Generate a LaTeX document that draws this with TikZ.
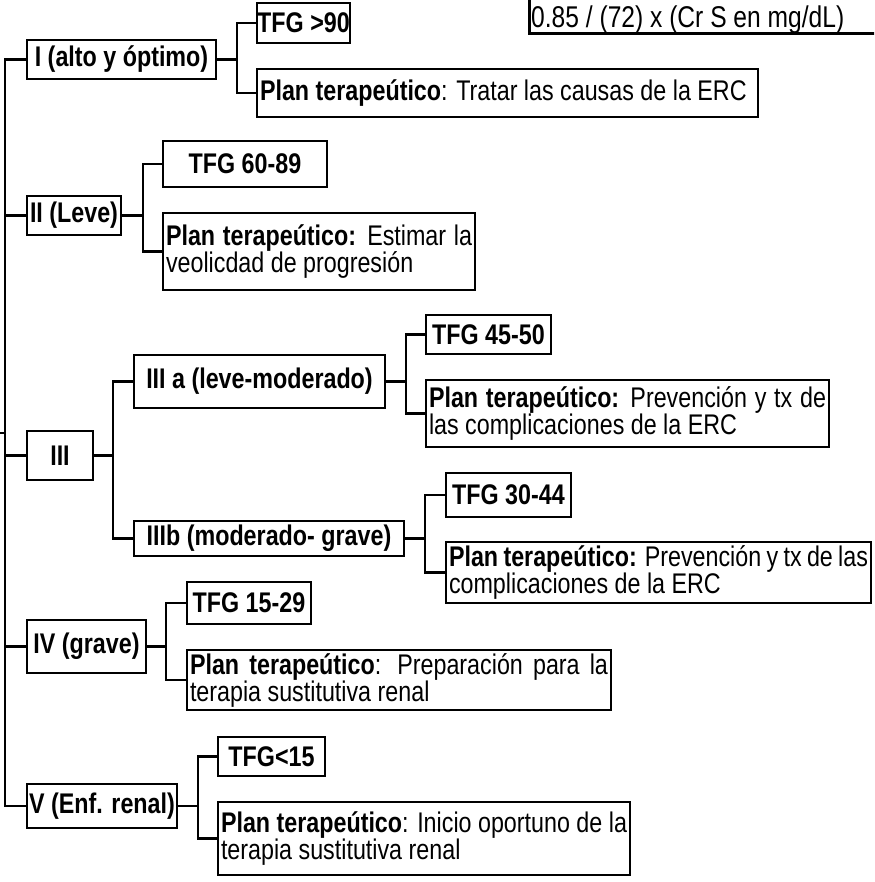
\documentclass[tikz,border=0pt]{standalone}
\usepackage{fontspec}
\setmainfont{Liberation Sans}[FakeStretch=0.82]
\newcommand{\myfs}{\fontsize{28.4}{27}\selectfont\hyphenpenalty=10000\exhyphenpenalty=10000\tolerance=9999}
\begin{document}
\begin{tikzpicture}[x=1pt,y=-1pt,
  lw/.style={line width=2.6pt},
  box/.style={draw, lw, inner sep=0pt, align=center, font=\myfs\bfseries},
  pbox/.style={draw, lw, inner xsep=3pt, inner ysep=0pt, align=justify, font=\myfs},
  conn/.style={lw}]
\useasboundingbox (0,0) rectangle (874,882);
\fill[white] (0,0) rectangle (874,882);
\clip (0,0) rectangle (874,882);

% junction coordinates
\coordinate (root) at (0,433);
\coordinate (tk) at (5,0);
\coordinate (m1) at (237,0);
\coordinate (m2) at (143,0);
\coordinate (m3) at (113,0);
\coordinate (m3a) at (406,0);
\coordinate (m3b) at (425,0);
\coordinate (m4) at (166,0);
\coordinate (m5) at (198,0);

% level 1
\node[box, minimum width=189, minimum height=39] (b1) at (121.5,59.5) {I (alto y óptimo)};
\node[box, minimum width=94, minimum height=39] (b2) at (74,215.5) {II (Leve)};
\node[box, minimum width=66, minimum height=49] (b3) at (60,455.5) {III};
\node[box, minimum width=119, minimum height=53] (b4) at (86.5,646.5) {IV (grave)};
\node[box, minimum width=150, minimum height=44] (b5) at (102,806) {V (Enf. renal)};

% sub level III
\node[box, minimum width=251, minimum height=53] (s3a) at (259.5,381.5) {III a (leve-moderado)};
\node[box, minimum width=270, minimum height=35] (s3b) at (269,538.5) {IIIb (moderado- grave)};

% TFG boxes
\node[box, minimum width=93, minimum height=40] (t1) at (303.5,23) {TFG >90};
\node[box, minimum width=164, minimum height=46] (t2) at (245,164) {TFG 60-89};
\node[box, minimum width=125, minimum height=39] (t3a) at (488.5,334.5) {TFG 45-50};
\node[box, minimum width=125, minimum height=44] (t3b) at (508.5,495) {TFG 30-44};
\node[box, minimum width=124, minimum height=42] (t4) at (249,603) {TFG 15-29};
\node[box, minimum width=107, minimum height=39] (t5) at (271.5,756.5) {TFG<15};

% plan boxes
\node[pbox, minimum width=501, text width=495, minimum height=48] (p1) at (507.5,93)
  {\textbf{Plan terapeútico}: Tratar las causas de la ERC};
\node[pbox, minimum width=312, text width=306, minimum height=77] (p2) at (319,251.5)
  {\textbf{Plan terapeútico:} Estimar la\linebreak veolicdad de progresión};
\node[pbox, minimum width=403, text width=397, minimum height=67] (p3a) at (627.5,413.5)
  {\textbf{Plan terapeútico:} Prevención y tx de\linebreak las complicaciones de la ERC};
\node[pbox, minimum width=425, text width=419, minimum height=61] (p3b) at (658.5,572.5)
  {\textbf{Plan terapeútico:} Prevención y tx de las\linebreak complicaciones de la ERC};
\node[pbox, minimum width=424, text width=418, minimum height=60] (p4) at (399,680)
  {\textbf{Plan terapeútico}: Preparación para la\linebreak terapia sustitutiva renal};
\node[pbox, minimum width=412, text width=406, minimum height=73] (p5) at (424,838.5)
  {\textbf{Plan terapeútico}: Inicio oportuno de la\linebreak terapia sustitutiva renal};

% formula box (cut by the top edge)
\node[draw, lw, inner sep=0pt, minimum width=400, minimum height=80, anchor=south west] (fbox) at (528,35) {};
\node[anchor=base west, inner sep=0pt, font=\fontsize{30}{31}\selectfont] (ftext) at (531,28) {0.85 / (72) x (Cr S en mg/dL)};

% trunk
\draw[conn] (b1.west) -- (b1.west -| tk) -- (b5.west -| tk) -- (b5.west);
\draw[conn] (b2.west -| tk) -- (b2.west);
\draw[conn] (b3.west -| tk) -- (b3.west);
\draw[conn] (b4.west -| tk) -- (b4.west);
\draw[conn] (root) -- (root -| tk);

% branches
\draw[conn] (b1.east) -- (b1.east -| m1);
\draw[conn] (t1.west) -- (t1.west -| m1) -- (p1.west -| m1) -- (p1.west);
\draw[conn] (b2.east) -- (b2.east -| m2);
\draw[conn] (t2.west) -- (t2.west -| m2) -- (p2.west -| m2) -- (p2.west);
\draw[conn] (b3.east) -- (b3.east -| m3);
\draw[conn] (s3a.west) -- (s3a.west -| m3) -- (s3b.west -| m3) -- (s3b.west);
\draw[conn] (s3a.east) -- (s3a.east -| m3a);
\draw[conn] (t3a.west) -- (t3a.west -| m3a) -- (p3a.west -| m3a) -- (p3a.west);
\draw[conn] (s3b.east) -- (s3b.east -| m3b);
\draw[conn] (t3b.west) -- (t3b.west -| m3b) -- (p3b.west -| m3b) -- (p3b.west);
\draw[conn] (b4.east) -- (b4.east -| m4);
\draw[conn] (t4.west) -- (t4.west -| m4) -- (p4.west -| m4) -- (p4.west);
\draw[conn] (b5.east) -- (b5.east -| m5);
\draw[conn] (t5.west) -- (t5.west -| m5) -- (p5.west -| m5) -- (p5.west);
\end{tikzpicture}
\end{document}
